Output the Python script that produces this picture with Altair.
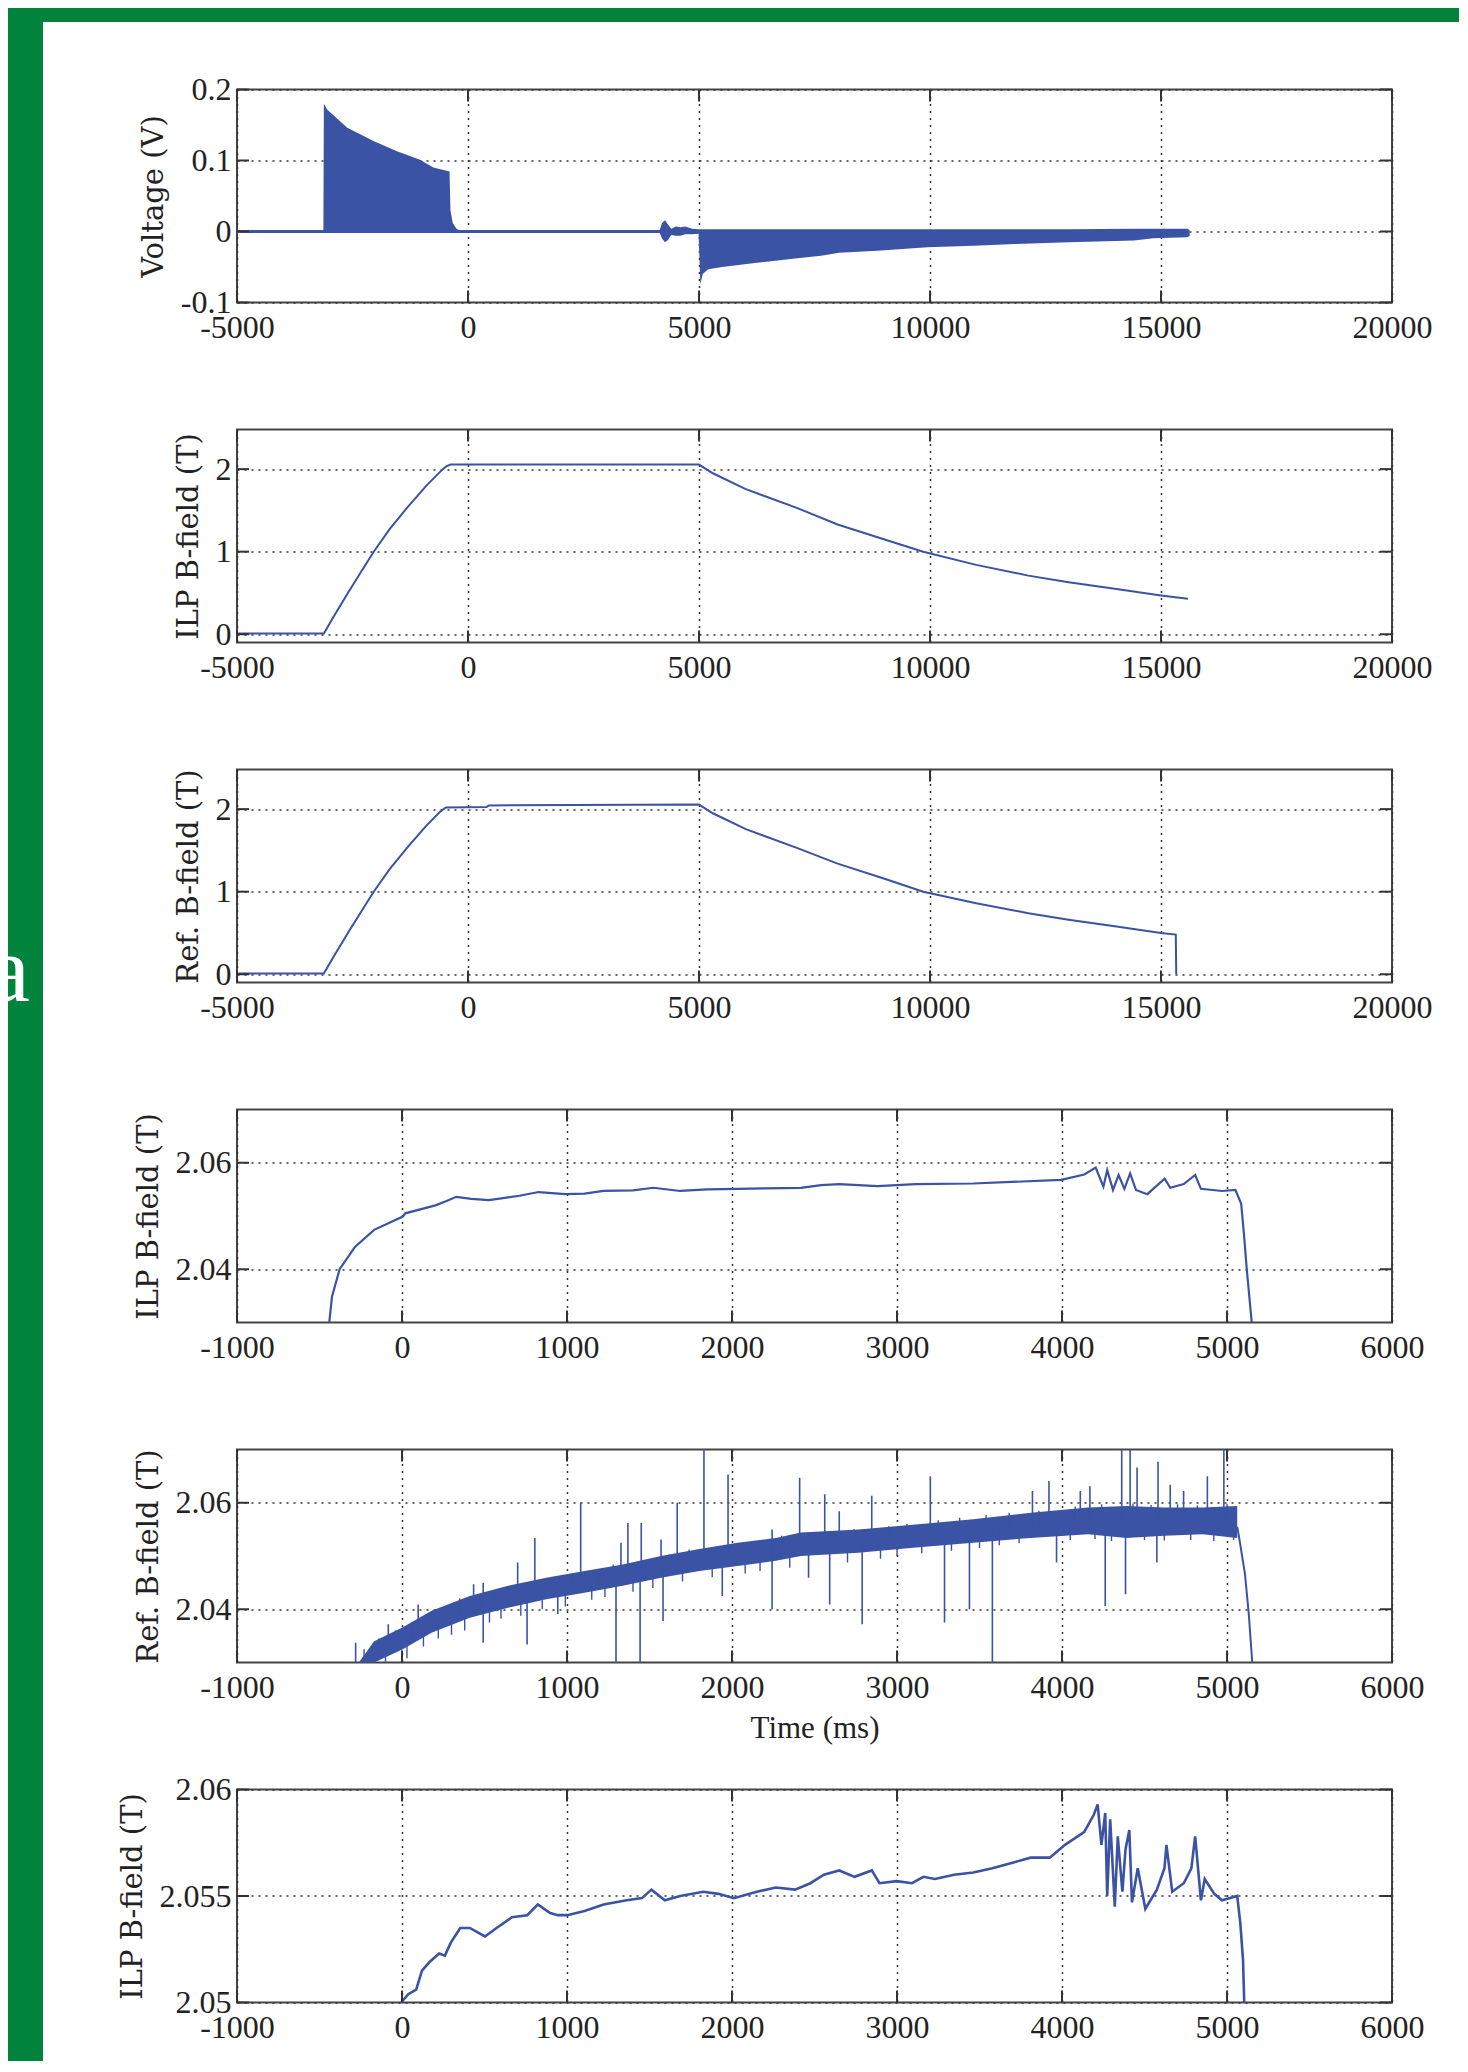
import altair as alt
import pandas as pd

BLUE = "#3A53A4"
GREEN = "#00843D"
W, H = 1155, 213
TICK = 12

# ---------------- data ----------------
xt_wide = [-5000, 0, 5000, 10000, 15000, 20000]
xt_zoom = [-1000, 0, 1000, 2000, 3000, 4000, 5000, 6000]

# Panel 1: voltage envelope (dense oscillation drawn as band)
v_t = [-5000, -3130, -3120, -3050, -2613, -2035, -1537, -1039, -749, -418, -400, -380, -330, -250, -200,
       4150, 4200, 4264, 4330, 4400, 4500, 4600, 4700, 4850, 4990, 5030, 5080, 5200, 5500, 6250, 7078,
       7640, 8037, 8863, 9942, 10935, 11846, 13008, 14415, 14827, 15573, 15620]
v_hi = [0.002, 0.002, 0.180, 0.172, 0.146, 0.127, 0.113, 0.101, 0.090, 0.085, 0.085, 0.030, 0.012, 0.004, 0.002,
        0.002, 0.012, 0.016, 0.010, 0.004, 0.007, 0.006, 0.007, 0.004, 0.003, 0.003, 0.003, 0.003, 0.003, 0.003, 0.003,
        0.003, 0.003, 0.003, 0.003, 0.003, 0.003, 0.003, 0.004, 0.004, 0.004, 0.002]
v_lo = [-0.002, -0.002, -0.002, -0.002, -0.002, -0.002, -0.002, -0.002, -0.002, -0.002, -0.002, -0.002, -0.002, -0.002, -0.002,
        -0.002, -0.010, -0.015, -0.012, -0.005, -0.006, -0.006, -0.004, -0.004, -0.003, -0.0745, -0.060, -0.053, -0.050, -0.044, -0.038,
        -0.034, -0.030, -0.027, -0.0223, -0.020, -0.0176, -0.0152, -0.0128, -0.0095, -0.008, -0.006]
v_ticks = [-0.1, 0, 0.1, 0.2]

# Panel 2: ILP B-field, full record
ilp_t = [-5000, -3120, -2900, -2600, -2300, -2041, -1700, -1293, -900, -600, -480, -380, 5000, 5300, 6000,
         7117, 8000, 9000, 9854, 11000, 12128, 13000, 14000, 15000, 15583]
ilp_b = [0.01, 0.01, 0.22, 0.50, 0.77, 1.00, 1.27, 1.55, 1.80, 1.97, 2.03, 2.055, 2.055, 1.95, 1.76,
         1.53, 1.33, 1.15, 1.00, 0.84, 0.71, 0.63, 0.55, 0.47, 0.43]

# Panel 3: reference B-field, full record
ref_t = [-5000, -3120, -2900, -2600, -2300, -2041, -1700, -1293, -900, -600, -480, 400, 450, 5000, 5300, 6000,
         7117, 8000, 9000, 9854, 11000, 12128, 13000, 14000, 15000, 15320, 15330]
ref_b = [0.01, 0.01, 0.22, 0.50, 0.77, 1.00, 1.27, 1.55, 1.80, 1.97, 2.02, 2.025, 2.045, 2.055, 1.95, 1.76,
         1.53, 1.34, 1.16, 1.00, 0.86, 0.74, 0.66, 0.58, 0.50, 0.48, 0.0]
b_ticks = [0, 1, 2]

# Panel 4: ILP B-field, zoom
ilpz_t = [-470, -441, -424, -378, -285, -169, 5, 20, 202, 270, 329, 420, 527, 712, 828, 990, 1106, 1222, 1400,
          1524, 1686, 1850, 2034, 2200, 2418, 2540, 2650, 2882, 3114, 3462, 3694, 3995, 4135, 4204, 4251, 4274,
          4309, 4343, 4378, 4413, 4448, 4517, 4622, 4656, 4738, 4807, 4842, 4970, 5051, 5086, 5104, 5120, 5150, 5175]
ilpz_b = [2.020, 2.030, 2.0349, 2.0400, 2.0442, 2.0474, 2.0499, 2.0505, 2.0520, 2.0528, 2.0536, 2.0532, 2.0530,
          2.0538, 2.0545, 2.0541, 2.0542, 2.0547, 2.0548, 2.0553, 2.0547, 2.0550, 2.0551, 2.0552, 2.0553, 2.0558,
          2.0560, 2.0556, 2.0560, 2.0561, 2.0564, 2.0568, 2.0578, 2.0591, 2.0555, 2.0586, 2.0549, 2.0577, 2.0551,
          2.0580, 2.0549, 2.0541, 2.0570, 2.0553, 2.0560, 2.0577, 2.0551, 2.0547, 2.0549, 2.0523, 2.0461, 2.0399,
          2.0300, 2.0200]
z_ticks = [2.04, 2.06]

# Panel 5: reference B-field, zoom (noise band + spikes + final drop)
rb_t = [-262, -169, 5, 179, 411, 643, 874, 1106, 1338, 1570, 1802, 2034, 2266, 2418, 2766, 3114, 3462, 3810,
        4158, 4390, 4621, 4853, 5062]
rb_lo = [2.0285, 2.0300, 2.0325, 2.0356, 2.0384, 2.0403, 2.0419, 2.0431, 2.0444, 2.0459, 2.0472, 2.0481, 2.0491,
         2.0500, 2.0506, 2.0516, 2.0525, 2.0534, 2.0541, 2.0534, 2.0538, 2.0541, 2.0534]
rb_hi = [2.0300, 2.0340, 2.0366, 2.0397, 2.0425, 2.0444, 2.0459, 2.0472, 2.0484, 2.0500, 2.0513, 2.0525, 2.0534,
         2.0544, 2.0550, 2.0559, 2.0569, 2.0581, 2.0591, 2.0594, 2.0591, 2.0591, 2.0594]
# large spikes
sp_t = [-281, -83, 98, 434, 492, 492, 701, 758, 805, 944, 1083, 1297, 1327, 1369, 1443, 1450, 1570, 1582, 1668,
        1830, 1941, 1976, 2243, 2243, 2410, 2464, 2562, 2592, 2650, 2789, 2847, 3202, 3288, 3439, 3578, 3821,
        3921, 3967, 4111, 4169, 4262, 4362, 4385, 4413, 4455, 4575, 4582, 4656, 4737, 4881, 4981]
sp_y0 = [2.030, 2.033, 2.036, 2.041, 2.041, 2.041, 2.043, 2.043, 2.044, 2.0445, 2.045, 2.0465, 2.0465, 2.047,
         2.047, 2.047, 2.048, 2.048, 2.0487, 2.0495, 2.050, 2.050, 2.051, 2.051, 2.052, 2.052, 2.0525, 2.0525,
         2.0527, 2.053, 2.053, 2.054, 2.0542, 2.0547, 2.055, 2.0556, 2.0558, 2.056, 2.0565, 2.0566, 2.0566,
         2.0566, 2.0566, 2.0566, 2.0566, 2.0566, 2.0566, 2.0566, 2.0566, 2.0566, 2.0566]
sp_y1 = [2.0337, 2.0372, 2.0409, 2.0447, 2.0450, 2.0337, 2.0488, 2.0334, 2.0534, 2.0391, 2.0600, 2.029, 2.0525,
         2.0562, 2.029, 2.0562, 2.0531, 2.0378, 2.0600, 2.071, 2.0425, 2.0653, 2.0550, 2.0400, 2.0647, 2.0459,
         2.0616, 2.0409, 2.0584, 2.0372, 2.0613, 2.0650, 2.0375, 2.0400, 2.029, 2.0622, 2.0641, 2.0488, 2.0622,
         2.0631, 2.0406, 2.071, 2.0428, 2.071, 2.0666, 2.0488, 2.0677, 2.0634, 2.0622, 2.0650, 2.071]
# short noise excursions around the band (ragged edges)
nz_t = [-230, -200, -140, -100, -40, 30, 60, 130, 160, 220, 260, 300, 350, 380, 470, 530, 560, 600, 680, 720,
        790, 850, 900, 990, 1030, 1150, 1190, 1230, 1280, 1400, 1480, 1520, 1620, 1700, 1740, 1880, 1910, 2080,
        2120, 2170, 2300, 2350, 2500, 2700, 2740, 2900, 2950, 3000, 3060, 3150, 3250, 3330, 3380, 3500, 3540,
        3620, 3680, 3740, 3860, 4050, 4080, 4200, 4240, 4300, 4430, 4500, 4540, 4620, 4700, 4780, 4820, 4920,
        5000, 5040]
nz_y0 = [2.0293, 2.0297, 2.0307, 2.0318, 2.0327, 2.0338, 2.0344, 2.0356, 2.0366, 2.0372, 2.0377, 2.0383, 2.0390,
         2.0392, 2.0399, 2.0405, 2.0406, 2.0410, 2.0414, 2.0418, 2.0422, 2.0427, 2.0430, 2.0434, 2.0437, 2.0446,
         2.0447, 2.0451, 2.0453, 2.0461, 2.0466, 2.0468, 2.0474, 2.0480, 2.0483, 2.0488, 2.0490, 2.0495, 2.0498,
         2.0500, 2.0507, 2.0509, 2.0514, 2.0519, 2.0521, 2.0526, 2.0528, 2.0530, 2.0531, 2.0534, 2.0538, 2.0540,
         2.0542, 2.0545, 2.0546, 2.0549, 2.0551, 2.0552, 2.0555, 2.0560, 2.0561, 2.0564, 2.0565, 2.0565, 2.0564,
         2.0564, 2.0564, 2.0564, 2.0564, 2.0564, 2.0564, 2.0564, 2.0564, 2.0564]
nz_y1 = [2.0325, 2.0272, 2.0345, 2.0290, 2.0360, 2.0308, 2.0375, 2.0330, 2.0392, 2.0345, 2.0405, 2.0352, 2.0420,
         2.0360, 2.0428, 2.0375, 2.0432, 2.0382, 2.0445, 2.0388, 2.0448, 2.0400, 2.0458, 2.0405, 2.0466, 2.0418,
         2.0475, 2.0423, 2.0484, 2.0433, 2.0492, 2.0440, 2.0503, 2.0452, 2.0512, 2.0460, 2.0518, 2.0467, 2.0526,
         2.0472, 2.0538, 2.0478, 2.0543, 2.0488, 2.0550, 2.0495, 2.0556, 2.0500, 2.0560, 2.0505, 2.0567, 2.0510,
         2.0572, 2.0515, 2.0577, 2.0520, 2.0581, 2.0524, 2.0585, 2.0530, 2.0593, 2.0532, 2.0597, 2.0528, 2.0598,
         2.0530, 2.0596, 2.0529, 2.0597, 2.0530, 2.0595, 2.0528, 2.0598, 2.0530]
rd_t = [5062, 5074, 5109, 5132, 5160]
rd_b = [2.0555, 2.0534, 2.0466, 2.0391, 2.0270]

# Panel 6: ILP B-field, fine zoom
ilpf_t = [-30, 5, 40, 86, 121, 167, 225, 260, 295, 353, 411, 503, 573, 666, 759, 823, 898, 944, 1002, 1106,
          1222, 1362, 1454, 1512, 1593, 1686, 1825, 1918, 2011, 2150, 2266, 2382, 2475, 2557, 2650, 2743, 2847,
          2894, 2998, 3091, 3160, 3230, 3346, 3462, 3578, 3717, 3810, 3926, 4018, 4134, 4192, 4216, 4239, 4262,
          4274, 4292, 4320, 4338, 4366, 4385, 4408, 4424, 4459, 4505, 4575, 4621, 4633, 4668, 4738, 4784, 4807,
          4842, 4865, 4923, 4970, 5062, 5081, 5097, 5104, 5110]
ilpf_b = [2.0495, 2.0501, 2.0504, 2.0506, 2.0515, 2.0519, 2.0523, 2.0522, 2.0528, 2.0535, 2.0535, 2.0531, 2.0535,
          2.0540, 2.0541, 2.0546, 2.0542, 2.0541, 2.0541, 2.0543, 2.0546, 2.0548, 2.0549, 2.0553, 2.0548, 2.0550,
          2.0552, 2.0551, 2.0549, 2.0552, 2.0554, 2.0553, 2.0556, 2.0560, 2.0562, 2.0559, 2.0562, 2.0556, 2.0557,
          2.0556, 2.0559, 2.0558, 2.0560, 2.0561, 2.0563, 2.0566, 2.0568, 2.0568, 2.0574, 2.0580, 2.0588, 2.0593,
          2.0574, 2.0589, 2.0550, 2.0586, 2.0545, 2.0578, 2.0552, 2.0572, 2.0581, 2.0547, 2.0563, 2.0544, 2.0553,
          2.0563, 2.0574, 2.0552, 2.0556, 2.0563, 2.0578, 2.0548, 2.0558, 2.0551, 2.0548, 2.0550, 2.0537, 2.0520,
          2.0501, 2.0490]
f_ticks = [2.05, 2.055, 2.06]

assert len(v_t) == len(v_hi) == len(v_lo)
assert len(ilp_t) == len(ilp_b) and len(ref_t) == len(ref_b)
assert len(ilpz_t) == len(ilpz_b) and len(ilpf_t) == len(ilpf_b)
assert len(rb_t) == len(rb_lo) == len(rb_hi)
assert len(sp_t) == len(sp_y0) == len(sp_y1)
assert len(nz_t) == len(nz_y0) == len(nz_y1)
assert len(rd_t) == len(rd_b)

# ---------------- helpers ----------------
LABEL = dict(labelFont="Liberation Serif", labelFontSize=32, labelColor="#222",
             labelFlush=False, labelOverlap=False, labelExpr="'' + datum.value",
             grid=True, gridDash=[2, 5], gridColor="#333", gridWidth=1.5,
             domain=False, ticks=False, tickSize=0)


def x_axis(vals, title=""):
    kw = dict(LABEL, values=vals, labelPadding=10)
    if title:
        kw.update(title=title, titleFont="Liberation Serif", titleFontSize=31,
                  titleFontWeight="normal", titleColor="#222", titlePadding=10)
    else:
        kw.update(title="")
    return alt.Axis(**kw)


def y_axis(vals, title):
    return alt.Axis(**dict(LABEL, values=vals, labelPadding=6, title=title,
                           titleFont="DejaVu Serif", titleFontSize=29,
                           titleFontWeight="normal", titleColor="#222", titlePadding=12))


def panel(main_layers, xdom, xvals, ydom, yvals, ytitle, xtitle="", pre=None):
    xs = alt.Scale(domain=xdom, nice=False, zero=False)
    ys = alt.Scale(domain=ydom, nice=False, zero=False)
    ax = x_axis(xvals, xtitle)
    ay = y_axis(yvals, ytitle)
    X = lambda: alt.X("x:Q", scale=xs, axis=ax)
    Y = lambda: alt.Y("y:Q", scale=ys, axis=ay)
    layers = list(pre or [])
    for mk, data, extra in main_layers:
        enc = {"x": X(), "y": Y()}
        if extra:
            enc["y2"] = alt.Y2("y2:Q")
        layers.append(mk(alt.Chart(data)).encode(**enc))
    tx = pd.DataFrame({"x": xvals})
    ty = pd.DataFrame({"y": yvals})
    rule = dict(color="#333", strokeWidth=2)
    layers += [
        alt.Chart(tx).mark_rule(**rule).encode(x=X(), y=alt.value(0), y2=alt.value(TICK)),
        alt.Chart(tx).mark_rule(**rule).encode(x=X(), y=alt.value(H), y2=alt.value(H - TICK)),
        alt.Chart(ty).mark_rule(**rule).encode(y=Y(), x=alt.value(0), x2=alt.value(TICK)),
        alt.Chart(ty).mark_rule(**rule).encode(y=Y(), x=alt.value(W), x2=alt.value(W - TICK)),
    ]
    return alt.layer(*layers).properties(width=W, height=H)


def line(sw=2.0):
    return lambda c: c.mark_line(color=BLUE, strokeWidth=sw, clip=True)


def area():
    return lambda c: c.mark_area(color=BLUE, opacity=1, clip=True)


def rules(sw=1.6):
    return lambda c: c.mark_rule(color=BLUE, strokeWidth=sw, clip=True)


# ---------------- decoration (green frame of the slide) ----------------
one = pd.DataFrame({"k": [0]})
deco = [
    alt.Chart(one).mark_rect(color=GREEN).encode(x=alt.value(-300), x2=alt.value(1222),
                                                  y=alt.value(-200), y2=alt.value(-67.5)),
    alt.Chart(one).mark_rect(color=GREEN).encode(x=alt.value(-300), x2=alt.value(-194),
                                                  y=alt.value(-200), y2=alt.value(1971.5)),
    alt.Chart(one).mark_text(text="a", font="Liberation Serif", fontSize=95, color="white",
                             align="right", baseline="alphabetic").encode(x=alt.value(-207), y=alt.value(911.5)),
]

# ---------------- panels ----------------
p1 = panel([(area(), pd.DataFrame({"x": v_t, "y": v_hi, "y2": v_lo}), True)],
           [-5000, 20000], xt_wide, [-0.1, 0.2], v_ticks, "Voltage (V)", pre=deco)

p2 = panel([(line(2.0), pd.DataFrame({"x": ilp_t, "y": ilp_b}), False)],
           [-5000, 20000], xt_wide, [-0.1, 2.48], b_ticks, "ILP B-field (T)")

p3 = panel([(line(2.0), pd.DataFrame({"x": ref_t, "y": ref_b}), False)],
           [-5000, 20000], xt_wide, [-0.1, 2.48], b_ticks, "Ref. B-field (T)")

p4 = panel([(line(2.2), pd.DataFrame({"x": ilpz_t, "y": ilpz_b}), False)],
           [-1000, 6000], xt_zoom, [2.03, 2.07], z_ticks, "ILP B-field (T)")

p5 = panel([
    (area(), pd.DataFrame({"x": rb_t, "y": rb_hi, "y2": rb_lo}), True),
    (rules(1.4), pd.DataFrame({"x": nz_t, "y": nz_y0, "y2": nz_y1}), True),
    (rules(1.6), pd.DataFrame({"x": sp_t, "y": sp_y0, "y2": sp_y1}), True),
    (line(2.0), pd.DataFrame({"x": rd_t, "y": rd_b}), False),
], [-1000, 6000], xt_zoom, [2.03, 2.07], z_ticks, "Ref. B-field (T)", xtitle="Time (ms)")

p6 = panel([(line(2.6), pd.DataFrame({"x": ilpf_t, "y": ilpf_b}), False)],
           [-1000, 6000], xt_zoom, [2.05, 2.06], f_ticks, "ILP B-field (T)")

chart = alt.vconcat(p1, p2, p3, p4, p5, p6, spacing=127, bounds="flush").properties(
    background="white",
    padding={"left": -72, "top": -119.5, "right": 0, "bottom": 0},
).configure_view(stroke="#444", strokeWidth=2)

chart.save("out.html", embed_options={"renderer": "svg", "actions": False})
